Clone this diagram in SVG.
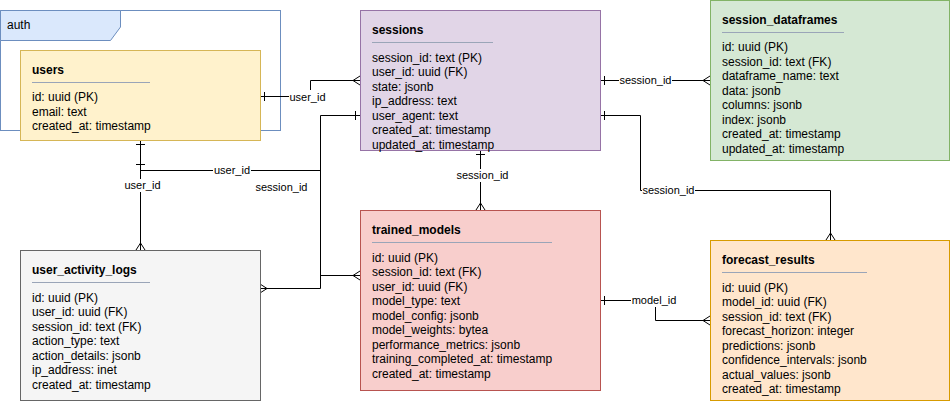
<svg xmlns="http://www.w3.org/2000/svg" width="951" height="401" viewBox="0 0 951 401">
<style>
text{font-family:"Liberation Sans",Arial,sans-serif;fill:#000}
.t{font-size:12px;font-weight:bold}
.r{font-size:12px}
.l{font-size:11px}
.lb{fill:#fff}
.sep{stroke:#9aa5b8;stroke-width:1}
.c{fill:none;stroke:#000;stroke-width:1}
</style>
<defs>
<marker id="many" markerUnits="userSpaceOnUse" markerWidth="12" markerHeight="12" refX="0" refY="0" orient="auto" overflow="visible">
<path d="M-7,0 L0,-4.5 M-7,0 L0,4.5" fill="none" stroke="#000" stroke-width="1"/>
</marker>
<marker id="one" markerUnits="userSpaceOnUse" markerWidth="12" markerHeight="12" refX="0" refY="0" orient="auto" overflow="visible">
<path d="M4.5,-4.5 L4.5,4.5" fill="none" stroke="#000" stroke-width="1"/>
</marker>
</defs>
<rect width="951" height="401" fill="#fff"/>
<g id="auth">
<rect x="0.5" y="10.5" width="280" height="120" fill="#fff" stroke="#6c8ebf"/>
<polygon points="0.5,10.5 120.5,10.5 120.5,27 110.5,40.5 0.5,40.5" fill="#dae8fc" stroke="#6c8ebf"/>
<text class="r" x="7" y="29">auth</text>
</g>
<g id="connectors">
<path class="c" d="M260,96.5 H310.5 V80.5 H360" marker-start="url(#one)" marker-end="url(#many)"/>
<path class="c" d="M140.5,140 V250" marker-start="url(#one)" marker-end="url(#many)"/>
<path class="c" d="M140.5,160 V170.5 H320.5 V275.5 H360" marker-start="url(#one)" marker-end="url(#many)"/>
<path class="c" d="M360,115.5 H320.5 V288.5 H260" marker-start="url(#one)" marker-end="url(#many)"/>
<path class="c" d="M600,80.5 H710" marker-start="url(#one)" marker-end="url(#many)"/>
<path class="c" d="M600,115.5 H640.5 V190.5 H830.5 V240" marker-start="url(#one)" marker-end="url(#many)"/>
<path class="c" d="M480.5,150 V210" marker-start="url(#one)" marker-end="url(#many)"/>
<path class="c" d="M600,300.5 H655.5 V320.5 H710" marker-start="url(#one)" marker-end="url(#many)"/>
<rect class="lb" x="289" y="90" width="37" height="13"/>
<text class="l" x="307.5" y="100.5" text-anchor="middle">user_id</text>
<rect class="lb" x="213" y="164" width="38" height="13"/>
<text class="l" x="232" y="174" text-anchor="middle">user_id</text>
<rect class="lb" x="124" y="179" width="37" height="13"/>
<text class="l" x="142.5" y="189" text-anchor="middle">user_id</text>
<text class="l" x="281.5" y="191" text-anchor="middle">session_id</text>
<rect class="lb" x="619" y="74" width="53" height="13"/>
<text class="l" x="645.5" y="84" text-anchor="middle">session_id</text>
<rect class="lb" x="642" y="184" width="53" height="13"/>
<text class="l" x="668.5" y="194" text-anchor="middle">session_id</text>
<rect class="lb" x="456" y="169" width="53" height="13"/>
<text class="l" x="482.5" y="179" text-anchor="middle">session_id</text>
<rect class="lb" x="631" y="294" width="46" height="13"/>
<text class="l" x="654" y="304" text-anchor="middle">model_id</text>
</g>
<g id="users">
<rect x="20.5" y="50.5" width="240" height="90" fill="#fff2cc" stroke="#d6b656"/>
<text class="t" x="32" y="73.5">users</text>
<line class="sep" x1="32" y1="82.5" x2="150" y2="82.5"/>
<text class="r" x="32" y="101">id: uuid (PK)</text>
<text class="r" x="32" y="115.5">email: text</text>
<text class="r" x="32" y="130">created_at: timestamp</text>
</g>
<g id="sessions">
<rect x="360.5" y="10.5" width="240" height="140" fill="#e1d5e7" stroke="#9673a6"/>
<text class="t" x="372" y="33.5">sessions</text>
<line class="sep" x1="372" y1="42.5" x2="493" y2="42.5"/>
<text class="r" x="372" y="61.5">session_id: text (PK)</text>
<text class="r" x="372" y="76">user_id: uuid (FK)</text>
<text class="r" x="372" y="90.5">state: jsonb</text>
<text class="r" x="372" y="105">ip_address: text</text>
<text class="r" x="372" y="119.5">user_agent: text</text>
<text class="r" x="372" y="134">created_at: timestamp</text>
<text class="r" x="372" y="148.5">updated_at: timestamp</text>
</g>
<g id="session_dataframes">
<rect x="710.5" y="0.5" width="239" height="160" fill="#d5e8d4" stroke="#82b366"/>
<text class="t" x="722" y="23.5">session_dataframes</text>
<line class="sep" x1="722" y1="32.5" x2="844" y2="32.5"/>
<text class="r" x="722" y="51">id: uuid (PK)</text>
<text class="r" x="722" y="65.5">session_id: text (FK)</text>
<text class="r" x="722" y="80">dataframe_name: text</text>
<text class="r" x="722" y="94.5">data: jsonb</text>
<text class="r" x="722" y="109">columns: jsonb</text>
<text class="r" x="722" y="123.5">index: jsonb</text>
<text class="r" x="722" y="138">created_at: timestamp</text>
<text class="r" x="722" y="152.5">updated_at: timestamp</text>
</g>
<g id="user_activity_logs">
<rect x="20.5" y="250.5" width="240" height="150" fill="#f5f5f5" stroke="#666666"/>
<text class="t" x="32" y="273.5">user_activity_logs</text>
<line class="sep" x1="32" y1="282.5" x2="150" y2="282.5"/>
<text class="r" x="32" y="301.5">id: uuid (PK)</text>
<text class="r" x="32" y="316">user_id: uuid (FK)</text>
<text class="r" x="32" y="330.5">session_id: text (FK)</text>
<text class="r" x="32" y="345">action_type: text</text>
<text class="r" x="32" y="359.5">action_details: jsonb</text>
<text class="r" x="32" y="374">ip_address: inet</text>
<text class="r" x="32" y="388.5">created_at: timestamp</text>
</g>
<g id="trained_models">
<rect x="360.5" y="210.5" width="240" height="180" fill="#f8cecc" stroke="#b85450"/>
<text class="t" x="372" y="233.5">trained_models</text>
<line class="sep" x1="372" y1="242.5" x2="552" y2="242.5"/>
<text class="r" x="372" y="261.5">id: uuid (PK)</text>
<text class="r" x="372" y="276">session_id: text (FK)</text>
<text class="r" x="372" y="290.5">user_id: uuid (FK)</text>
<text class="r" x="372" y="305">model_type: text</text>
<text class="r" x="372" y="319.5">model_config: jsonb</text>
<text class="r" x="372" y="334">model_weights: bytea</text>
<text class="r" x="372" y="348.5">performance_metrics: jsonb</text>
<text class="r" x="372" y="363">training_completed_at: timestamp</text>
<text class="r" x="372" y="377.5">created_at: timestamp</text>
</g>
<g id="forecast_results">
<rect x="710.5" y="240.5" width="239" height="160" fill="#ffe6cc" stroke="#d79b00"/>
<text class="t" x="722" y="263.5">forecast_results</text>
<line class="sep" x1="722" y1="272.5" x2="867" y2="272.5"/>
<text class="r" x="722" y="291.5">id: uuid (PK)</text>
<text class="r" x="722" y="306">model_id: uuid (FK)</text>
<text class="r" x="722" y="320.5">session_id: text (FK)</text>
<text class="r" x="722" y="335">forecast_horizon: integer</text>
<text class="r" x="722" y="349.5">predictions: jsonb</text>
<text class="r" x="722" y="364">confidence_intervals: jsonb</text>
<text class="r" x="722" y="378.5">actual_values: jsonb</text>
<text class="r" x="722" y="393">created_at: timestamp</text>
</g>
</svg>
